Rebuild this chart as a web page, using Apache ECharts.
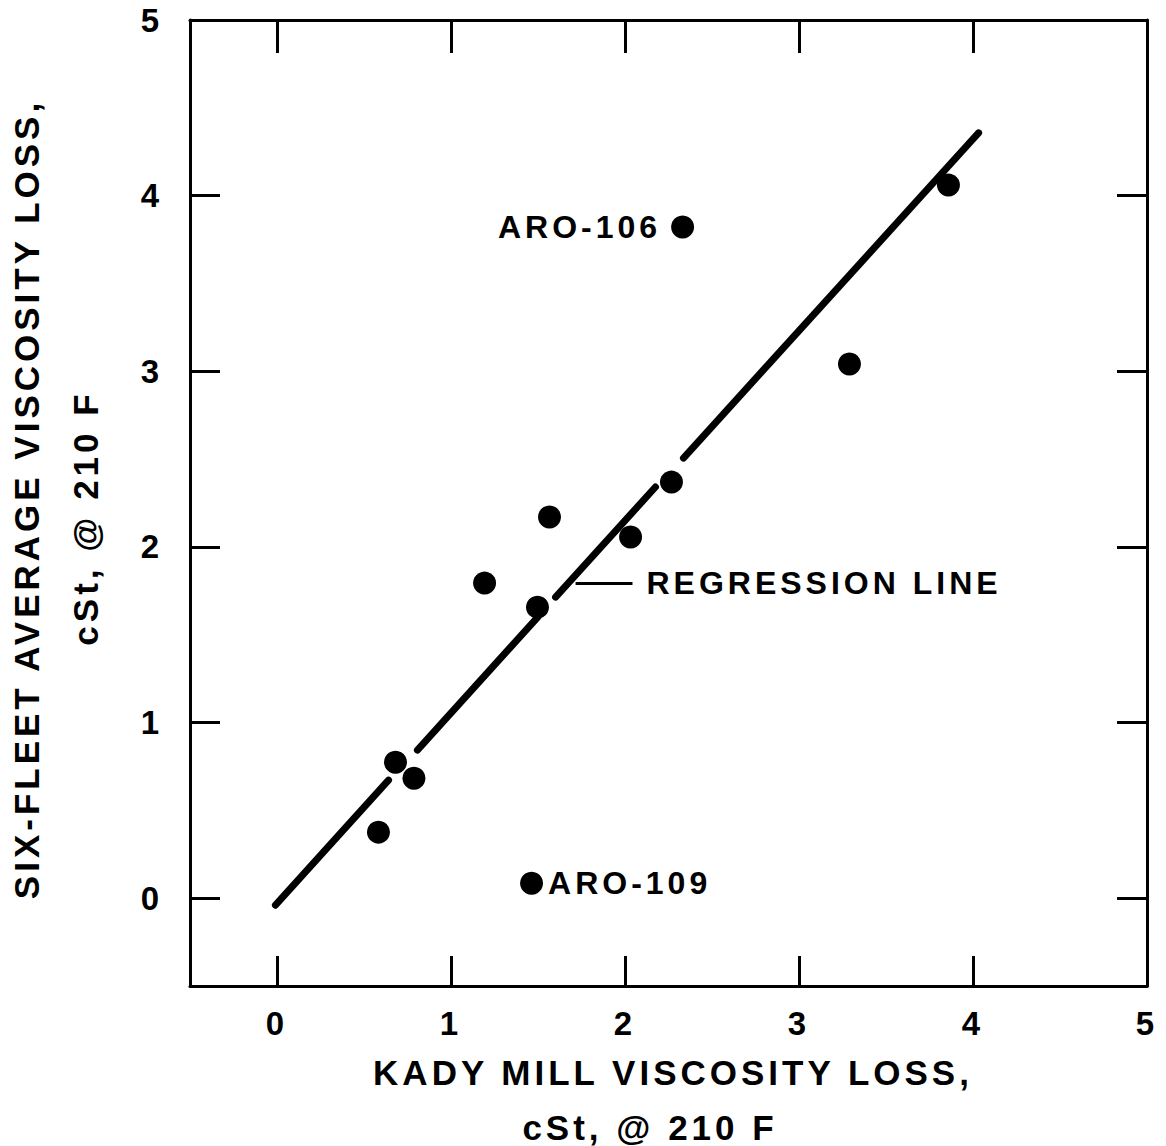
<!DOCTYPE html>
<html>
<head>
<meta charset="utf-8">
<script src="https://cdn.jsdelivr.net/npm/echarts@6/dist/echarts.min.js"></script>
<style>
  html, body { margin: 0; padding: 0; background: #fff; }
  #chart { width: 1166px; height: 1146px; }
  #chart text { letter-spacing: 4px; }
</style>
</head>
<body>
<div id="chart"></div>
<script>
// ---- data ----
const kadyLoss  = [0.583, 0.681, 0.787, 1.193, 1.497, 1.566, 1.463, 2.032, 2.267, 2.331, 3.290, 3.859];
const fleetLoss = [0.376, 0.774, 0.683, 1.794, 1.657, 2.170, 0.085, 2.056, 2.369, 3.821, 3.041, 4.060];
const pointNames = ['', '', '', '', '', '', 'ARO-109', '', '', 'ARO-106', '', ''];

// regression line drawn in broken segments (start/end x and y of each piece)
const regSegX = [[-0.009, 0.641], [0.807, 1.50], [1.601, 2.175], [2.336, 4.032]];
const regSegY = [[-0.040, 0.672], [0.843, 1.602], [1.714, 2.341], [2.506, 4.357]];

// leader for the regression-line label
const leaderX = [1.716, 2.043];
const leaderY = [1.794, 1.794];
const leaderText = 'REGRESSION LINE';

const xTickValues = [0, 1, 2, 3, 4, 5];
const yTickValues = [0, 1, 2, 3, 4, 5];
const innerTicks  = [0, 1, 2, 3, 4];

const xTitle = ['KADY MILL VISCOSITY LOSS,', 'cSt, @ 210 F'];
const yTitle = ['SIX-FLEET AVERAGE VISCOSITY LOSS,', 'cSt, @ 210 F'];

// ---- chart ----
const FONT = '"Liberation Sans", Arial, sans-serif';
const INK = '#000';
const chart = echarts.init(document.getElementById('chart'), null, { renderer: 'svg' });

const lineStyle = { color: INK, width: 3 };
function xAx(pos, labels) {
  return {
    type: 'value', min: -0.5, max: 5, position: pos, gridIndex: 0,
    axisLine: { show: true, onZero: false, lineStyle },
    axisTick: { show: true, inside: true, length: pos === 'top' ? 33 : 30, lineStyle, customValues: innerTicks },
    axisLabel: labels ? {
      show: true, customValues: xTickValues, margin: 21,
      fontFamily: FONT, fontWeight: 'bold', fontSize: 33, color: INK,
      formatter: v => String(v)
    } : { show: false },
    splitLine: { show: false }
  };
}
function yAx(pos, labels) {
  return {
    type: 'value', min: -0.5, max: 5, position: pos, gridIndex: 0,
    axisLine: { show: true, onZero: false, lineStyle },
    axisTick: { show: true, inside: true, length: 30, lineStyle, customValues: innerTicks },
    axisLabel: labels ? {
      show: true, customValues: yTickValues, margin: 38, align: 'center',
      fontFamily: FONT, fontWeight: 'bold', fontSize: 33, color: INK,
      formatter: v => String(v)
    } : { show: false },
    splitLine: { show: false }
  };
}

const scatterData = kadyLoss.map((x, i) => {
  const item = { value: [x, fleetLoss[i]] };
  if (pointNames[i]) {
    item.label = {
      show: true,
      position: pointNames[i] === 'ARO-106' ? 'left' : 'right',
      distance: pointNames[i] === 'ARO-106' ? 10 : 5,
      formatter: pointNames[i],
      fontFamily: FONT, fontWeight: 'bold', fontSize: 32, color: INK
    };
  }
  return item;
});

const regData = regSegX.map((xx, i) => ({
  coords: [[xx[0], regSegY[i][0]], [xx[1], regSegY[i][1]]]
}));

const txt = (text, x, y, rot) => ({
  type: 'text', x, y, rotation: rot || 0, silent: true,
  style: {
    text, fill: INK, font: 'bold 35px ' + FONT,
    textAlign: 'center', textVerticalAlign: 'middle'
  }
});

chart.setOption({
  animation: false,
  backgroundColor: '#fff',
  grid: { left: 190, right: 19, top: 20, bottom: 160, containLabel: false },
  xAxis: [xAx('bottom', true), xAx('top', false)],
  yAxis: [yAx('left', true), yAx('right', false)],
  series: [
    {
      type: 'lines', coordinateSystem: 'cartesian2d', xAxisIndex: 0, yAxisIndex: 0,
      polyline: false, silent: true, z: 2,
      lineStyle: { color: INK, width: 7, opacity: 1, cap: 'round' },
      data: regData
    },
    {
      type: 'lines', coordinateSystem: 'cartesian2d', xAxisIndex: 0, yAxisIndex: 0,
      polyline: false, silent: true, z: 2,
      lineStyle: { color: INK, width: 3, opacity: 1 },
      label: {
        show: true, position: 'end', distance: 14, formatter: leaderText,
        fontFamily: FONT, fontWeight: 'bold', fontSize: 32, color: INK
      },
      data: [{ coords: [[leaderX[0], leaderY[0]], [leaderX[1], leaderY[1]]] }]
    },
    {
      type: 'scatter', xAxisIndex: 0, yAxisIndex: 0, z: 3,
      symbol: 'circle', symbolSize: 23,
      itemStyle: { color: INK, opacity: 1 },
      data: scatterData
    }
  ],
  graphic: [
    txt(xTitle[0], 673, 1072),
    txt(xTitle[1], 650, 1127),
    txt(yTitle[0], 26, 499, Math.PI / 2),
    txt(yTitle[1], 85, 518, Math.PI / 2)
  ]
});
</script>
</body>
</html>
